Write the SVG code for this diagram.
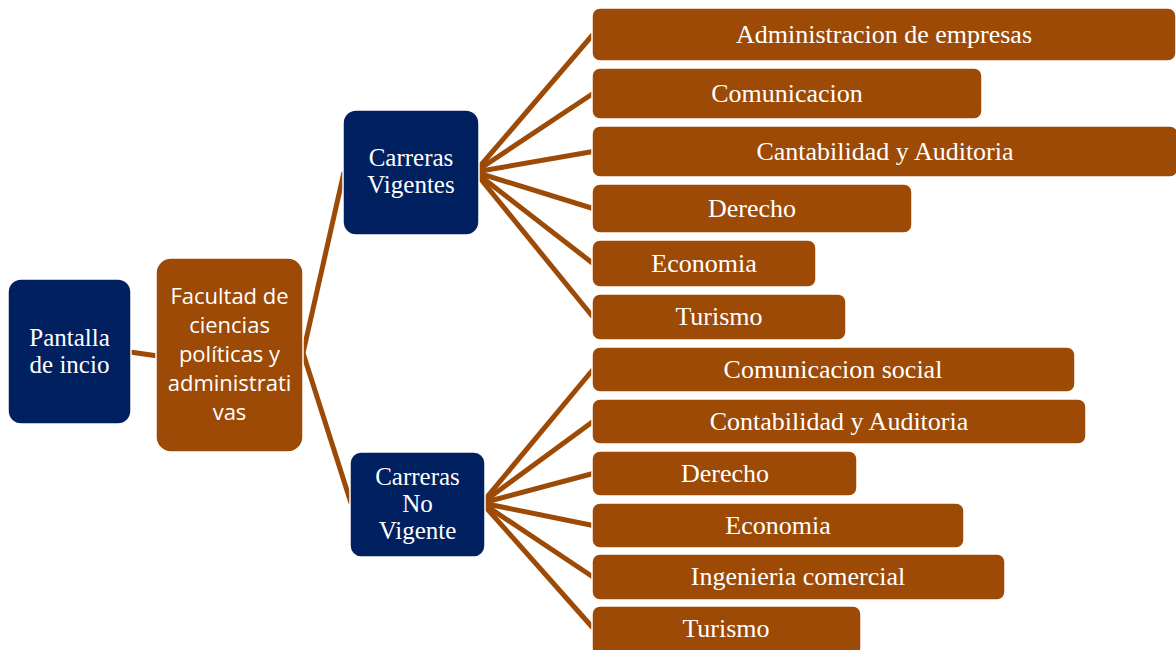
<svg xmlns="http://www.w3.org/2000/svg" width="1176" height="650" viewBox="0 0 1176 650">
<style>
.navy{fill:#002060;stroke:#ffffff;stroke-width:1.5}
.brown{fill:#9C4A06;stroke:#ffffff;stroke-width:1.5}
.conn line{stroke:#9C4A06;stroke-width:5;stroke-linecap:butt}
.serif{font-family:"Liberation Serif","Times New Roman",serif;font-size:26px;fill:#ffffff;text-anchor:middle}
.serif2{font-family:"Liberation Serif","Times New Roman",serif;font-size:25px;fill:#ffffff;text-anchor:middle}
.sans{font-family:"Open Sans","Noto Sans",sans-serif;font-size:22px;fill:#ffffff;text-anchor:middle}
</style>
<rect width="1176" height="650" fill="#ffffff"/>
<g id="connectors" class="conn">
<line x1="130" y1="352" x2="158" y2="356"/>
<line x1="303" y1="353" x2="344" y2="172"/>
<line x1="303" y1="353" x2="351" y2="503"/>
<line x1="475" y1="172" x2="593" y2="34.5"/>
<line x1="475" y1="172" x2="593" y2="93.5"/>
<line x1="475" y1="172" x2="593" y2="151.5"/>
<line x1="475" y1="172" x2="593" y2="208.5"/>
<line x1="475" y1="172" x2="593" y2="263.5"/>
<line x1="475" y1="172" x2="593" y2="317"/>
<line x1="482" y1="503" x2="593" y2="369.5"/>
<line x1="482" y1="503" x2="593" y2="421.5"/>
<line x1="482" y1="503" x2="593" y2="473.5"/>
<line x1="482" y1="503" x2="593" y2="525.5"/>
<line x1="482" y1="503" x2="593" y2="577"/>
<line x1="482" y1="503" x2="593" y2="628"/>
</g>
<g id="pantalla">
<rect class="navy" x="8" y="279" width="123" height="145" rx="13"/>
<text class="serif2" x="69.5" y="346">Pantalla</text>
<text class="serif2" x="69.5" y="373">de incio</text>
</g>
<g id="facultad">
<rect class="brown" x="156" y="258" width="147" height="194" rx="15"/>
<text class="sans" x="229.5" y="304">Facultad de</text>
<text class="sans" x="229.5" y="333">ciencias</text>
<text class="sans" x="229.5" y="362">políticas y</text>
<text class="sans" x="229.5" y="391">administrati</text>
<text class="sans" x="229.5" y="420">vas</text>
</g>
<g id="vigentes">
<rect class="navy" x="343" y="110" width="136" height="125" rx="13"/>
<text class="serif2" x="411" y="166">Carreras</text>
<text class="serif2" x="411" y="193">Vigentes</text>
</g>
<g id="novigente">
<rect class="navy" x="350" y="452" width="135" height="105" rx="11"/>
<text class="serif2" x="417.5" y="485">Carreras</text>
<text class="serif2" x="417.5" y="512">No</text>
<text class="serif2" x="417.5" y="539">Vigente</text>
</g>
<g id="v1"><rect class="brown" x="592" y="8" width="584" height="53" rx="8"/><text class="serif" x="884" y="43">Administracion de empresas</text></g>
<g id="v2"><rect class="brown" x="592" y="68" width="390" height="51" rx="8"/><text class="serif" x="787" y="102">Comunicacion</text></g>
<g id="v3"><rect class="brown" x="592" y="126" width="586" height="51" rx="8"/><text class="serif" x="885" y="160">Cantabilidad y Auditoria</text></g>
<g id="v4"><rect class="brown" x="592" y="184" width="320" height="49" rx="8"/><text class="serif" x="752" y="217">Derecho</text></g>
<g id="v5"><rect class="brown" x="592" y="240" width="224" height="47" rx="8"/><text class="serif" x="704" y="272">Economia</text></g>
<g id="v6"><rect class="brown" x="592" y="294" width="254" height="46" rx="8"/><text class="serif" x="719" y="325">Turismo</text></g>
<g id="n1"><rect class="brown" x="592" y="347" width="483" height="45" rx="8"/><text class="serif" x="833" y="378">Comunicacion social</text></g>
<g id="n2"><rect class="brown" x="592" y="399" width="494" height="45" rx="8"/><text class="serif" x="839" y="430">Contabilidad y Auditoria</text></g>
<g id="n3"><rect class="brown" x="592" y="451" width="265" height="45" rx="8"/><text class="serif" x="725" y="482">Derecho</text></g>
<g id="n4"><rect class="brown" x="592" y="503" width="372" height="45" rx="8"/><text class="serif" x="778" y="534">Economia</text></g>
<g id="n5"><rect class="brown" x="592" y="554" width="413" height="46" rx="8"/><text class="serif" x="798" y="585">Ingenieria comercial</text></g>
<g id="n6"><rect class="brown" x="592" y="606" width="269" height="50" rx="8"/><text class="serif" x="726" y="637">Turismo</text></g>
</svg>
